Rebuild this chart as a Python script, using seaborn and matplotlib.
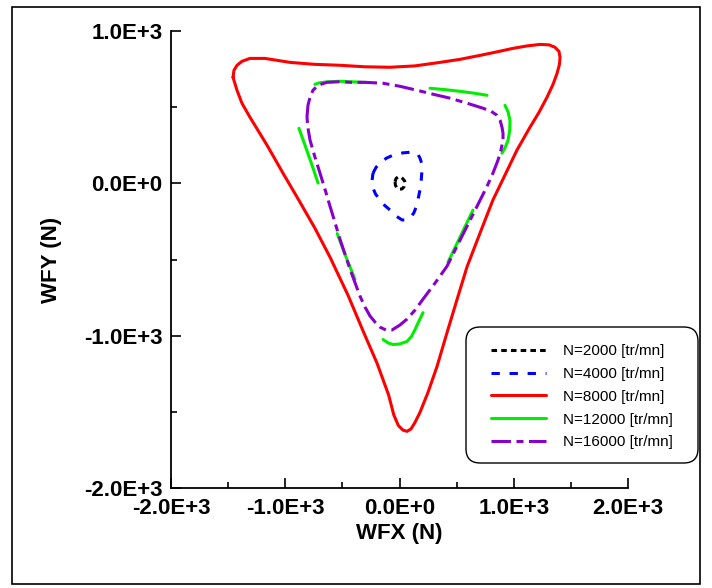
import numpy as np
import pandas as pd
import seaborn as sns
import matplotlib
matplotlib.use("Agg")
import matplotlib.pyplot as plt
from matplotlib.ticker import MultipleLocator, FuncFormatter
from matplotlib.patches import Rectangle, FancyBboxPatch

# ---------------- data ----------------
n2000_x = [-39, -30, -13, 12, 31, 45, 48, 40, 22, 0, -22, -36, -39]
n2000_y = [11, 32, 42, 40, 29, 15, 3, -22, -37, -38, -31, -12, 11]

n4000_x = [-232, -205, -171, -115, -57, 30, 109, 160, 179, 195, 197, 190, 179, 165,
           153, 125, 92, 55, 22, -30, -83, -130, -171, -210, -232, -240, -232]
n4000_y = [67, 105, 133, 165, 185, 200, 205, 192, 166, 130, 87, 20, -44, -95,
           -142, -195, -227, -242, -240, -215, -175, -145, -110, -70, -31, 20, 67]

n8000_x = [-1457, -1449, -1422, -1379, -1309, -1177, -958, -740, -521, -302, -83, 136,
           354, 530, 705, 853, 993, 1116, 1230, 1309, 1361, 1396, 1405, 1400, 1379,
           1344, 1291, 1221, 1142, 1028, 923, 818, 705, 591, 503, 416, 328, 249, 179,
           136, 101, 66, 30, -10, -50, -95, -197, -311, -451, -608, -740, -880,
           -1020, -1160, -1309, -1379, -1422, -1457]
n8000_y = [696, 742, 775, 801, 820, 820, 794, 781, 775, 765, 762, 771,
           794, 814, 840, 863, 886, 902, 912, 909, 893, 866, 827, 781, 722,
           650, 565, 466, 368, 218, 54, -109, -326, -548, -764, -980, -1203, -1373, -1504,
           -1569, -1612, -1628, -1620, -1590, -1520, -1390, -1180, -983, -734, -485, -295, -112,
           67, 251, 434, 526, 610, 696]

n12000_segments = [
    ([-740, -700, -635, -521, -433, -284], [650, 660, 666, 670, 667, 662]),
    ([267, 400, 530, 650, 766], [624, 615, 604, 592, 578]),
    ([923, 950, 967, 965, 950, 925, 897], [512, 470, 414, 350, 283, 235, 198]),
    ([-880, -827, -766, -713], [361, 250, 120, 2]),
    ([-545, -470, -390], [-330, -480, -630]),
    ([-144, -100, -57, 0, 66, 105, 136, 170, 206],
     [-1025, -1048, -1058, -1055, -1038, -1005, -960, -905, -849]),
    ([425, 530, 643], [-517, -353, -176]),
]

n16000_x = [-810, -801, -783, -757, -713, -635, -521, -433, -302, -144, 4, 153, 293,
            442, 591, 731, 801, 853, 880, 897, 906, 906, 888, 862, 818, 766, 687,
            591, 503, 416, 311, 206, 136, 66, 4, -66, -118, -171, -214, -258, -302,
            -346, -433, -521, -565, -608, -652, -696, -740, -783, -801, -810]
n16000_y = [434, 513, 565, 611, 644, 663, 667, 663, 663, 657, 637, 611, 585,
            559, 526, 493, 473, 447, 414, 369, 329, 284, 218, 152, 67, -20, -138,
            -282, -413, -544, -655, -760, -832, -891, -930, -963, -963, -944, -911, -871, -812,
            -740, -564, -367, -256, -151, -40, 67, 172, 283, 362, 434]

labels = ["N=2000 [tr/mn]", "N=4000 [tr/mn]", "N=8000 [tr/mn]",
          "N=12000 [tr/mn]", "N=16000 [tr/mn]"]
x_ticks = [-2000, -1000, 0, 1000, 2000]
y_ticks = [-2000, -1000, 0, 1000]

# ---------------- figure ----------------
sns.set_theme(style="white")
plt.rcParams["font.family"] = ["Liberation Sans", "DejaVu Sans"]
plt.rcParams["lines.scale_dashes"] = False
plt.rcParams["text.color"] = "black"
plt.rcParams["axes.labelcolor"] = "black"
plt.rcParams["xtick.color"] = "black"
plt.rcParams["ytick.color"] = "black"

W, H = 712, 588
fig = plt.figure(figsize=(W / 100, H / 100), dpi=100)
ax = fig.add_axes([171 / W, 1 - 488 / H, (628 - 171) / W, (488 - 31) / H])

lw = 2.2
sns.lineplot(x=n8000_x, y=n8000_y, sort=False, ax=ax, color="#ff0000",
             lw=lw, estimator=None)
h_red = ax.lines[-1]
green_handles = []
for sx, sy in n12000_segments:
    sns.lineplot(x=sx, y=sy, sort=False, ax=ax, color="#00ee00", lw=lw, estimator=None)
    green_handles.append(ax.lines[-1])
sns.lineplot(x=n16000_x, y=n16000_y, sort=False, ax=ax, color="#8800cc", lw=lw,
             estimator=None, linestyle=(0, (14, 4, 5, 4)))
h_purple = ax.lines[-1]
sns.lineplot(x=n4000_x, y=n4000_y, sort=False, ax=ax, color="#0000ff", lw=lw,
             estimator=None, linestyle=(0, (6, 7)))
h_blue = ax.lines[-1]
sns.lineplot(x=n2000_x, y=n2000_y, sort=False, ax=ax, color="#000000", lw=lw,
             estimator=None, linestyle=(0, (4, 3)))
h_black = ax.lines[-1]
for ln in ax.lines:
    ln.set_solid_capstyle("round")
    ln.set_solid_joinstyle("round")
    ln.set_dash_capstyle("butt")

ax.set_xlim(-2000, 2000)
ax.set_ylim(-2000, 1000)


def fmt(v, pos=None):
    if v == 0:
        return "0.0E+0"
    e = int(np.floor(np.log10(abs(v))))
    m = v / 10 ** e
    return f"{m:.1f}E{'+' if e >= 0 else '-'}{abs(e)}"


ax.xaxis.set_major_locator(MultipleLocator(1000))
ax.xaxis.set_minor_locator(MultipleLocator(500))
ax.yaxis.set_major_locator(MultipleLocator(1000))
ax.yaxis.set_minor_locator(MultipleLocator(500))
ax.xaxis.set_major_formatter(FuncFormatter(fmt))
ax.yaxis.set_major_formatter(FuncFormatter(fmt))

for s in ["top", "right"]:
    ax.spines[s].set_visible(False)
for s in ["left", "bottom"]:
    ax.spines[s].set_color("black")
    ax.spines[s].set_linewidth(1.3)

ax.tick_params(which="major", direction="in", length=7, width=1.2, color="black",
               labelsize=16, bottom=True, left=True)
ax.tick_params(which="minor", direction="in", length=4.5, width=1.2, color="black",
               bottom=True, left=True)
ax.tick_params(axis="x", which="major", pad=7)
ax.tick_params(axis="y", which="major", pad=6)
for t in ax.get_xticklabels() + ax.get_yticklabels():
    t.set_fontweight("bold")

ax.set_xlabel("WFX (N)", fontsize=16, fontweight="bold", labelpad=3)
ax.set_ylabel("WFY (N)", fontsize=16, fontweight="bold", labelpad=16)
ax.grid(False)
ax.set_facecolor("white")

# legend frame (rounded box) drawn separately, legend content without frame
box = FancyBboxPatch((466 / W, 1 - 463 / H), (698 - 466) / W, (463 - 327) / H,
                     boxstyle="round,pad=0,rounding_size=0.02",
                     transform=fig.transFigure, facecolor="white",
                     edgecolor="black", linewidth=1.0, zorder=5,
                     mutation_aspect=W / H, clip_on=False)
ax.add_patch(box)
leg = ax.legend([h_black, h_blue, h_red, green_handles[0], h_purple], labels,
                loc="upper left", bbox_to_anchor=(491 / W, 1 - 344 / H),
                bbox_transform=fig.transFigure, borderaxespad=0,
                fontsize=11, handlelength=3.6, handletextpad=1.1,
                labelspacing=0.58, borderpad=0, frameon=False)
leg.set_zorder(6)

fig.patches.append(Rectangle((11.5 / W, 1 - 584 / H), (700 - 11.5) / W,
                             (584 - 7) / H, transform=fig.transFigure,
                             fill=False, edgecolor="black", linewidth=1.2))

fig.savefig("out.png", dpi=100, facecolor="white")
